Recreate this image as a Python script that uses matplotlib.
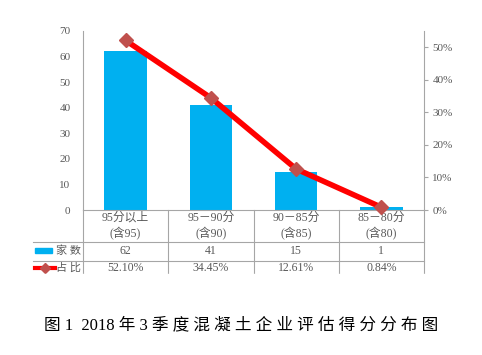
import matplotlib.pyplot as plt
from matplotlib.patches import Rectangle

plt.rcParams['font.family'] = ['Liberation Serif', 'Noto Sans CJK SC', 'DejaVu Sans']

# 数据
categories = ["95分以上\n(含95)", "95－90分\n(含90)", "90－85分\n(含85)", "85－80分\n(含80)"]
counts = [62, 41, 15, 1]
shares = [0.5210, 0.3445, 0.1261, 0.0084]
count_labels = ["62", "41", "15", "1"]
share_labels = ["52.10%", "34.45%", "12.61%", "0.84%"]
left_ticks = [0, 10, 20, 30, 40, 50, 60, 70]
right_ticks = [0, 0.1, 0.2, 0.3, 0.4, 0.5]
title = "图 1  2018 年 3 季 度 混 凝 土 企 业 评 估 得 分 分 布 图"

W, H = 482, 355
grey = '#595959'
line_grey = '#A6A6A6'

fig = plt.figure(figsize=(W / 100, H / 100), dpi=100)
ax = fig.add_axes([83 / W, 1 - 210 / H, (424 - 83) / W, (210 - 31) / H])

x = list(range(len(counts)))
ax.bar(x, counts, width=0.5, color='#00B0F0', zorder=2)
ax.set_xlim(-0.5, 3.5)
ax.set_ylim(0, 70)
ax.set_xticks([])
ax.set_yticks(left_ticks)
ax.tick_params(axis='y', length=0, pad=9, labelsize=8, labelcolor=grey)
for s in ['top', 'right']:
    ax.spines[s].set_visible(False)
ax.spines['left'].set_color(line_grey)
ax.spines['bottom'].set_color(line_grey)

# 占比 折线
ax2 = ax.twinx()
ax2.plot(x, shares, color='red', lw=4, marker='D', ms=7,
         mfc='#C0504D', mec='#C0504D', clip_on=False, zorder=5)
ax2.set_ylim(0, 0.55)
ax2.set_yticks(right_ticks)
ax2.set_yticklabels([f"{int(round(t * 100))}%" for t in right_ticks])
ax2.tick_params(axis='y', length=3, color=line_grey, labelsize=8, labelcolor=grey, pad=3)
for s in ['top', 'left', 'bottom']:
    ax2.spines[s].set_visible(False)
ax2.spines['right'].set_color(line_grey)

# 表格 (像素 -> 坐标)
def ay(py):
    return (210 - py) / (210 - 31)

def dx(px):
    return -0.5 + (px - 83) / ((424 - 83) / 4)

tr = ax.get_xaxis_transform()
for b in [-0.5, 0.5, 1.5, 2.5, 3.5]:
    ax.plot([b, b], [ay(210), ay(274)], color=line_grey, lw=0.8, transform=tr, clip_on=False)
for py in [242, 261]:
    ax.plot([dx(33), dx(424)], [ay(py), ay(py)], color=line_grey, lw=0.8, transform=tr, clip_on=False)

for i in x:
    ax.text(i, ay(226), categories[i], ha='center', va='center', fontsize=8.5,
            color=grey, transform=tr, linespacing=1.35)
    ax.text(i, ay(251), count_labels[i], ha='center', va='center', fontsize=8.5,
            color=grey, transform=tr)
    ax.text(i, ay(268), share_labels[i], ha='center', va='center', fontsize=8.5,
            color=grey, transform=tr)

# 图例
ax.add_patch(Rectangle((dx(35), ay(253)), dx(52) - dx(35), ay(248) - ay(253),
                       color='#00B0F0', transform=tr, clip_on=False))
ax.text(dx(68), ay(251), "家 数", ha='center', va='center', fontsize=8, color=grey, transform=tr)
ax.plot([dx(35), dx(55)], [ay(268), ay(268)], color='red', lw=3, transform=tr, clip_on=False)
ax.plot([dx(45)], [ay(268)], marker='D', ms=5, color='#C0504D', transform=tr, clip_on=False)
ax.text(dx(68), ay(268), "占 比", ha='center', va='center', fontsize=8, color=grey, transform=tr)

# 下方裁切
fig.add_artist(Rectangle((0, 1 - 305 / H), 1, (305 - 274) / H, transform=fig.transFigure,
                         color='white', zorder=10))

fig.text(0.5, 1 - 325 / H, title, ha='center', va='center', fontsize=12, color='black')

fig.savefig("out.png", dpi=100)
